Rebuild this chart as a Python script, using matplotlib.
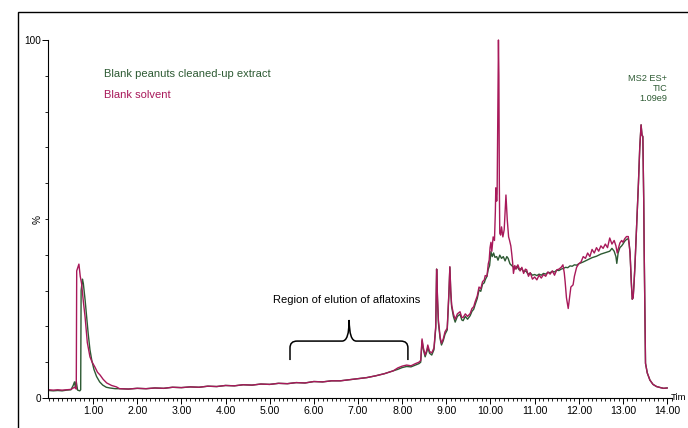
import matplotlib
matplotlib.use("Agg")
import matplotlib.pyplot as plt
from matplotlib.path import Path
from matplotlib.patches import PathPatch, Rectangle
from matplotlib.ticker import MultipleLocator, FormatStrFormatter

plt.rcParams["font.family"] = ["Liberation Sans", "DejaVu Sans"]

GREEN = "#2d5a33"
MAGENTA = "#a8195a"

# shared baseline between the solvent front and the late eluting region
base_t = [1.6, 1.8, 2.0, 2.2, 2.4, 2.6, 2.8, 3.0, 3.2, 3.4, 3.6, 3.8, 4.0, 4.2,
          4.4, 4.6, 4.8, 5.0, 5.2, 5.4, 5.6, 5.8, 6.0, 6.2, 6.4, 6.6, 6.8, 7.0,
          7.2, 7.4, 7.6, 7.8]
base_v = [2.6, 2.5, 2.7, 2.6, 2.8, 2.7, 3.0, 2.9, 3.1, 3.0, 3.3, 3.2, 3.5, 3.4,
          3.7, 3.6, 3.9, 3.8, 4.1, 4.0, 4.3, 4.2, 4.6, 4.5, 4.8, 4.8, 5.1, 5.4,
          5.7, 6.2, 6.8, 7.6]

# blank peanuts cleaned-up extract
extract_t = ([0.00, 0.10, 0.20, 0.30, 0.40, 0.50, 0.55, 0.58, 0.60, 0.62, 0.65,
              0.70, 0.72, 0.73, 0.76, 0.78, 0.82, 0.86, 0.89, 0.93, 0.97, 1.02,
              1.08, 1.15, 1.22, 1.30, 1.38, 1.50]
             + base_t
             + [7.9, 8.0, 8.1, 8.2, 8.3, 8.38, 8.42, 8.45, 8.48, 8.52, 8.56, 8.58,
                8.62, 8.67, 8.72, 8.76, 8.78, 8.80, 8.82, 8.86, 8.89, 8.93, 8.97,
                9.02, 9.06, 9.08, 9.10, 9.12, 9.16, 9.20, 9.25, 9.31, 9.35, 9.38,
                9.43, 9.48, 9.54, 9.58, 9.62, 9.65, 9.70, 9.74, 9.78, 9.82, 9.86,
                9.88, 9.92, 9.95, 9.98, 10.01, 10.04, 10.07, 10.10, 10.14, 10.17,
                10.21, 10.25, 10.29, 10.33, 10.37, 10.40, 10.44, 10.48, 10.51,
                10.55, 10.6, 10.65, 10.7, 10.75, 10.8, 10.85, 10.9, 10.95, 11.0,
                11.05, 11.1, 11.15, 11.2, 11.25, 11.3, 11.35, 11.4, 11.45, 11.5,
                11.55, 11.6, 11.65, 11.7, 11.75, 11.8, 11.85, 11.9, 11.95, 12.0,
                12.1, 12.2, 12.3, 12.4, 12.5, 12.6, 12.7, 12.75, 12.8, 12.84,
                12.86, 12.89, 12.93, 12.97, 13.0, 13.04, 13.08, 13.12, 13.14,
                13.16, 13.19, 13.21, 13.23, 13.25, 13.27, 13.31, 13.35, 13.38,
                13.41, 13.43, 13.45, 13.47, 13.48, 13.50, 13.51, 13.55, 13.61,
                13.68, 13.76, 13.85, 13.92, 14.0])
extract_v = ([2.1, 2.0, 2.1, 2.0, 2.2, 2.3, 3.5, 4.5, 3.0, 4.6, 2.2,
              2.0, 2.3, 30.0, 33.2, 32.0, 27.4, 22.0, 18.0, 13.5, 10.6, 8.0,
              6.0, 4.5, 3.6, 3.0, 2.8, 2.6]
             + base_v
             + [8.0, 8.5, 8.8, 8.7, 9.2, 9.6, 10.0, 16.0, 13.5, 11.5, 13.0, 14.2,
                12.5, 12.0, 13.5, 19.5, 36.0, 27.5, 21.0, 16.5, 14.8, 16.0, 17.8,
                19.0, 29.5, 36.5, 29.5, 25.5, 22.8, 21.2, 22.8, 23.4, 21.8, 21.6,
                22.8, 22.0, 23.0, 24.2, 24.8, 26.0, 27.8, 30.2, 29.8, 31.8, 32.2,
                33.0, 34.0, 36.0, 37.0, 40.9, 39.5, 40.5, 39.3, 39.5, 38.5,
                39.9, 39.0, 39.5, 38.3, 39.5, 39.0, 37.5, 37.0, 36.7,
                36.0, 36.8, 35.8, 36.2, 35.3, 35.5, 34.6, 34.9, 34.3, 34.5,
                34.2, 34.6, 34.3, 34.8, 34.6, 35.1, 35.0, 35.4, 35.2, 35.7,
                35.6, 36.0, 36.2, 36.5, 36.4, 36.9, 36.8, 37.2, 37.1, 37.5,
                38.0, 38.6, 39.2, 39.6, 40.2, 40.6, 41.0, 41.8, 41.0, 39.5,
                37.6, 40.5, 42.0, 42.5, 43.0, 43.8, 44.3, 44.5, 43.0,
                40.5, 32.0, 27.6, 28.0, 32.0, 36.7, 48.0, 60.0, 70.0,
                76.3, 73.5, 73.0, 55.0, 41.3, 20.0, 9.7, 7.0, 5.0,
                3.8, 3.2, 2.9, 2.7, 2.8])

# blank solvent
solvent_t = ([0.00, 0.10, 0.20, 0.30, 0.40, 0.50, 0.58, 0.62, 0.63, 0.68, 0.71,
              0.74, 0.78, 0.82, 0.87, 0.93, 0.98, 1.04, 1.10, 1.16, 1.23, 1.31,
              1.42, 1.53]
             + base_t
             + [7.9, 8.0, 8.1, 8.2, 8.3, 8.38, 8.42, 8.45, 8.48, 8.52, 8.56, 8.58,
                8.62, 8.67, 8.72, 8.76, 8.78, 8.80, 8.82, 8.86, 8.89, 8.93, 8.97,
                9.02, 9.06, 9.08, 9.10, 9.12, 9.16, 9.20, 9.25, 9.31, 9.35, 9.38,
                9.43, 9.48, 9.54, 9.58, 9.62, 9.65, 9.70, 9.74, 9.78, 9.82, 9.86,
                9.88, 9.92, 9.95, 9.97, 9.99, 10.01, 10.03, 10.06, 10.09, 10.11,
                10.12, 10.14, 10.15, 10.17, 10.18, 10.19, 10.20, 10.21, 10.23,
                10.25, 10.28, 10.31, 10.33, 10.35, 10.37, 10.38, 10.41, 10.43,
                10.46, 10.48, 10.50, 10.52, 10.55, 10.58, 10.62, 10.67, 10.71,
                10.75, 10.79, 10.82, 10.86, 10.90, 10.95, 11.0, 11.05, 11.1,
                11.15, 11.2, 11.25, 11.3, 11.35, 11.4, 11.45, 11.5, 11.55, 11.6,
                11.64, 11.67, 11.69, 11.72, 11.76, 11.79, 11.82, 11.87, 11.9,
                11.95, 12.0, 12.05, 12.1, 12.15, 12.2, 12.25, 12.3, 12.35, 12.4,
                12.45, 12.5, 12.55, 12.6, 12.65, 12.7, 12.75, 12.8, 12.84, 12.87,
                12.9, 12.93, 12.97, 13.0, 13.04, 13.08, 13.12, 13.14, 13.16,
                13.19, 13.21, 13.23, 13.25, 13.27, 13.31, 13.35, 13.38, 13.41,
                13.43, 13.45, 13.47, 13.48, 13.50, 13.51, 13.55, 13.61, 13.68,
                13.76, 13.85, 13.92, 14.0])
solvent_v = ([2.3, 2.2, 2.3, 2.2, 2.3, 2.4, 3.0, 2.5, 35.5, 37.4, 34.0,
              32.0, 27.0, 22.6, 15.5, 11.5, 10.0, 8.7, 7.2, 6.4, 5.2, 4.2,
              3.5, 3.1]
             + base_v
             + [8.4, 8.9, 9.2, 9.0, 9.6, 10.0, 10.5, 16.5, 14.0, 12.0, 13.5, 14.8,
                13.0, 12.6, 14.0, 20.0, 36.0, 28.0, 21.8, 17.0, 15.3, 16.5, 18.5,
                19.5, 30.0, 36.7, 30.0, 26.0, 23.5, 22.0, 23.5, 24.1, 22.5, 22.5,
                23.5, 22.8, 23.6, 25.0, 25.5, 26.8, 28.5, 31.0, 30.5, 32.5, 33.0,
                34.2, 34.0, 37.5, 38.5, 42.0, 43.5, 41.0, 45.0, 44.0, 52.0,
                58.7, 55.0, 57.0, 85.0, 100.0, 90.0, 60.0, 46.0, 45.5,
                47.8, 45.0, 47.0, 52.0, 56.7, 52.0, 49.7, 45.0, 44.1,
                42.5, 40.4, 38.0, 34.8, 37.0, 36.0, 37.2, 35.5, 36.5,
                34.8, 36.0, 35.8, 34.0, 35.0, 33.2, 33.8, 33.0, 34.3,
                33.5, 34.5, 34.0, 35.2, 34.6, 35.5, 34.3, 35.8, 36.0, 36.5,
                37.2, 35.0, 32.5, 28.0, 25.0, 28.0, 31.0, 31.6, 34.0,
                36.5, 37.5, 38.0, 39.5, 39.0, 40.5, 39.5, 41.5, 40.5, 42.0,
                41.0, 42.5, 41.8, 43.0, 42.0, 44.7, 43.0, 44.0, 42.5, 40.5,
                42.0, 43.3, 44.0, 43.5, 44.5, 45.1, 45.1, 43.0, 40.5,
                32.0, 27.6, 28.0, 32.0, 36.7, 48.0, 60.0, 70.0, 76.3,
                73.5, 73.0, 55.0, 41.3, 20.0, 9.7, 7.0, 5.0, 3.8,
                3.2, 2.9, 2.7, 2.8])

x_major = [1, 2, 3, 4, 5, 6, 7, 8, 9, 10, 11, 12, 13, 14]
y_labels = {0: "0", 100: "100"}

fig = plt.figure(figsize=(6.88, 4.28), dpi=100)
# outer frame of the original report page
fig.patches.append(Rectangle((18 / 688, -0.05), 1.0, 1.05 - 12 / 428,
                             transform=fig.transFigure, fill=False,
                             edgecolor="black", linewidth=1.0))

ax = fig.add_axes([48 / 688, 30 / 428, 624 / 688, 358 / 428])
ax.plot(extract_t, extract_v, color=GREEN, lw=1.0, clip_on=False)
ax.plot(solvent_t, solvent_v, color=MAGENTA, lw=1.0, clip_on=False)

ax.set_xlim(-0.02, 14.11)
ax.set_ylim(0, 100)
for side in ("top", "right"):
    ax.spines[side].set_visible(False)
for side in ("left", "bottom"):
    ax.spines[side].set_linewidth(0.8)

ax.set_xticks(x_major)
ax.xaxis.set_major_formatter(FormatStrFormatter("%.2f"))
ax.xaxis.set_minor_locator(MultipleLocator(0.1))
ax.set_yticks(list(y_labels))
ax.set_yticklabels(list(y_labels.values()))
ax.yaxis.set_minor_locator(MultipleLocator(10))
ax.tick_params(axis="x", which="major", length=4, width=0.7, labelsize=7.6,
               pad=2)
ax.tick_params(axis="y", which="major", length=4, width=0.7, labelsize=7.2,
               pad=1)
ax.tick_params(which="minor", length=2, width=0.6)

ax.text(-0.25, 50, "%", rotation=90, ha="center", va="center", fontsize=7.2)
ax.text(14.08, 0, "Tim", ha="left", va="center", fontsize=6.8)

ax.text(1.25, 90.5, "Blank peanuts cleaned-up extract", color=GREEN,
        fontsize=8, va="center")
ax.text(1.25, 84.6, "Blank solvent", color=MAGENTA, fontsize=8, va="center")
ax.text(14.0, 90.5, "MS2 ES+\nTIC\n1.09e9", color=GREEN, fontsize=6.6,
        ha="right", va="top", linespacing=1.15)

# curly brace over the aflatoxin window
verts = [(5.46, 10.6), (5.46, 14.0), (5.46, 15.9), (5.62, 15.9), (6.64, 15.9),
         (6.80, 15.9), (6.80, 21.8), (6.80, 15.9), (6.96, 15.9), (7.97, 15.9),
         (8.13, 15.9), (8.13, 14.0), (8.13, 10.6)]
codes = [Path.MOVETO, Path.LINETO, Path.CURVE3, Path.CURVE3, Path.LINETO,
         Path.CURVE3, Path.CURVE3, Path.CURVE3, Path.CURVE3, Path.LINETO,
         Path.CURVE3, Path.CURVE3, Path.LINETO]
ax.add_patch(PathPatch(Path(verts, codes), fill=False, edgecolor="black",
                       linewidth=1.1))
ax.text(6.75, 27.4, "Region of elution of aflatoxins", ha="center",
        va="center", fontsize=8)

fig.savefig("out.png", dpi=100)
